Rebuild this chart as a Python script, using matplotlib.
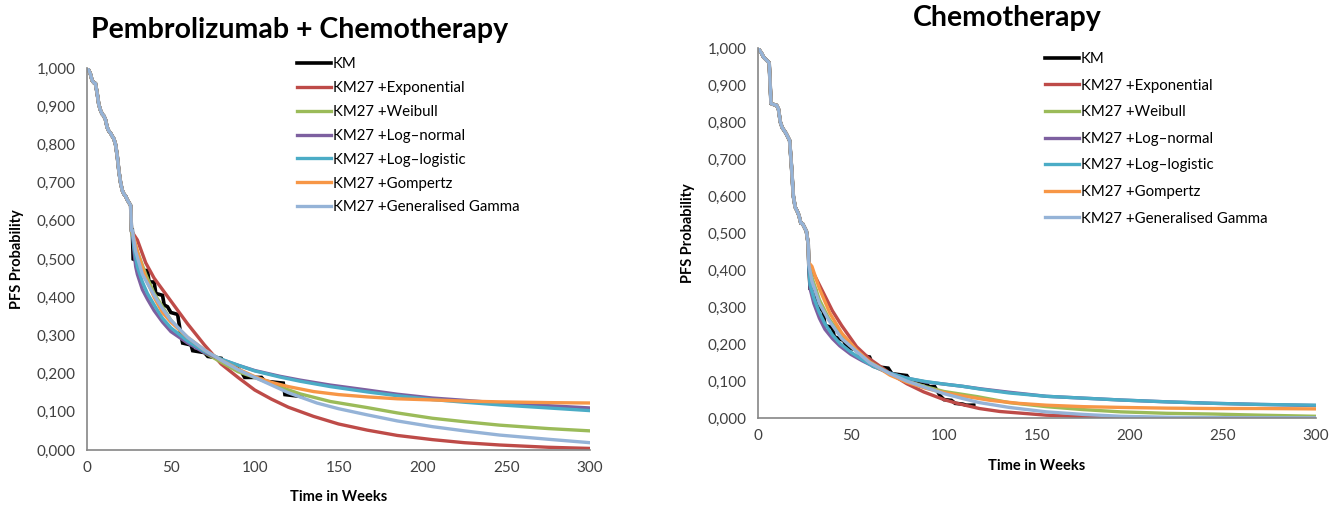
import matplotlib
matplotlib.use('Agg')
import matplotlib.pyplot as plt

plt.rcParams['font.family'] = ['Lato', 'DejaVu Sans']

# ---------------- data: Pembrolizumab + Chemotherapy ----------------
pc_km_pre_t = [0, 1, 2, 3, 4, 5, 6, 7, 8, 9, 10, 11, 12, 13, 14, 15, 16, 17, 18,
               19, 20, 21, 22, 23, 24, 25, 26, 26.5]
pc_km_pre_s = [1.000, 0.995, 0.985, 0.968, 0.962, 0.960, 0.935, 0.905, 0.890, 0.880,
               0.875, 0.865, 0.845, 0.835, 0.830, 0.822, 0.815, 0.800, 0.770, 0.730,
               0.700, 0.680, 0.670, 0.665, 0.655, 0.648, 0.640, 0.575]
pc_km_post_t = [27, 27.5, 30, 31, 36, 37, 40, 41, 45, 46, 48, 50, 54, 56, 57, 62, 63,
                70, 72, 80, 82, 88, 92, 94, 104, 106, 117, 118, 128]
pc_km_post_s = [0.575, 0.500, 0.495, 0.470, 0.470, 0.440, 0.440, 0.410, 0.405, 0.380,
                0.375, 0.360, 0.355, 0.300, 0.280, 0.275, 0.260, 0.255, 0.245, 0.240,
                0.225, 0.220, 0.205, 0.190, 0.190, 0.180, 0.175, 0.145, 0.140]

pc_exp_t = [27, 30, 35, 40, 50, 60, 70, 80, 90, 100, 110, 120, 135, 150, 167, 185, 206, 225, 246, 275, 300]
pc_exp_s = [0.570, 0.550, 0.490, 0.450, 0.390, 0.330, 0.275, 0.225, 0.190, 0.157, 0.133,
            0.112, 0.088, 0.068, 0.052, 0.038, 0.027, 0.019, 0.013, 0.007, 0.004]
pc_wei_t = [27, 30, 35, 40, 50, 60, 70, 80, 90, 100, 115, 127, 145, 167, 185, 206, 225, 246, 275, 300]
pc_wei_s = [0.560, 0.520, 0.460, 0.410, 0.340, 0.290, 0.255, 0.230, 0.205, 0.190, 0.165,
            0.147, 0.127, 0.111, 0.097, 0.083, 0.074, 0.065, 0.056, 0.050]
pc_ln_t = [27, 28, 29, 30, 33, 36, 40, 45, 50, 60, 70, 80, 90, 100, 115, 127, 145, 167,
           185, 206, 225, 246, 275, 300]
pc_ln_s = [0.575, 0.520, 0.480, 0.460, 0.420, 0.395, 0.365, 0.335, 0.310, 0.280, 0.255,
           0.237, 0.222, 0.208, 0.193, 0.183, 0.170, 0.157, 0.146, 0.136, 0.130, 0.123,
           0.116, 0.110]
pc_ll_t = [27, 28, 30, 33, 36, 40, 45, 50, 60, 70, 80, 90, 100, 115, 127, 145, 167, 185,
           206, 225, 246, 275, 300]
pc_ll_s = [0.575, 0.530, 0.480, 0.440, 0.410, 0.380, 0.345, 0.320, 0.285, 0.258, 0.238,
           0.222, 0.207, 0.191, 0.180, 0.166, 0.152, 0.142, 0.132, 0.125, 0.118, 0.110, 0.103]
pc_gom_t = [27, 30, 35, 40, 45, 50, 60, 70, 80, 90, 100, 110, 120, 135, 150, 167, 185,
            206, 225, 246, 275, 300]
pc_gom_s = [0.570, 0.520, 0.450, 0.400, 0.360, 0.335, 0.295, 0.262, 0.235, 0.212, 0.192,
            0.177, 0.166, 0.153, 0.145, 0.139, 0.134, 0.131, 0.128, 0.126, 0.124, 0.123]
pc_gg_t = [27, 29, 33, 40, 45, 50, 60, 70, 80, 90, 100, 110, 120, 137, 150, 167, 185,
           206, 225, 246, 275, 300]
pc_gg_s = [0.575, 0.520, 0.460, 0.405, 0.370, 0.340, 0.295, 0.262, 0.235, 0.210, 0.190,
           0.170, 0.150, 0.123, 0.108, 0.092, 0.076, 0.061, 0.050, 0.039, 0.028, 0.019]

# ---------------- data: Chemotherapy ----------------
ch_km_pre_t = [0, 2, 3, 5, 6, 7, 8, 10, 11, 12, 13, 15, 16, 17, 18, 19, 20, 21, 22,
               23, 24, 25, 26, 27, 27.3]
ch_km_pre_s = [1.000, 0.985, 0.975, 0.965, 0.960, 0.850, 0.848, 0.845, 0.835, 0.800,
               0.785, 0.770, 0.760, 0.750, 0.680, 0.600, 0.570, 0.560, 0.548, 0.527,
               0.525, 0.515, 0.505, 0.470, 0.415]
ch_km_post_t = [27.3, 28, 31, 32, 35, 36, 40, 41, 46, 48, 53, 55, 60, 62, 70, 72, 80,
                82, 90, 92, 95, 98, 100, 104, 106, 110, 112, 116]
ch_km_post_s = [0.415, 0.350, 0.345, 0.300, 0.290, 0.250, 0.245, 0.220, 0.210, 0.190,
                0.185, 0.170, 0.165, 0.140, 0.135, 0.120, 0.115, 0.100, 0.095, 0.085,
                0.085, 0.060, 0.050, 0.048, 0.040, 0.038, 0.035, 0.035]

ch_exp_t = [27.3, 30, 35, 40, 45, 53, 60, 71, 80, 89, 100, 107, 119, 130, 155, 180, 210, 250, 300]
ch_exp_s = [0.415, 0.390, 0.340, 0.290, 0.250, 0.193, 0.160, 0.121, 0.093, 0.071, 0.050,
            0.040, 0.026, 0.018, 0.008, 0.003, 0.001, 0.000, 0.000]
ch_wei_t = [27.3, 29, 33, 38, 45, 53, 60, 71, 80, 90, 100, 118, 135, 155, 175, 195, 220, 245, 270, 300]
ch_wei_s = [0.415, 0.380, 0.320, 0.270, 0.220, 0.180, 0.152, 0.120, 0.101, 0.085, 0.072,
            0.058, 0.042, 0.031, 0.023, 0.017, 0.013, 0.011, 0.008, 0.005]
ch_ln_t = [27.3, 28, 30, 33, 36, 40, 44, 50, 56, 62, 70, 80, 90, 100, 110, 120, 135, 155,
           175, 195, 220, 245, 270, 300]
ch_ln_s = [0.415, 0.350, 0.310, 0.270, 0.240, 0.215, 0.195, 0.172, 0.155, 0.140, 0.123,
           0.108, 0.098, 0.092, 0.086, 0.079, 0.070, 0.059, 0.054, 0.049, 0.044, 0.040,
           0.037, 0.034]
ch_ll_t = [27.3, 28, 30, 33, 36, 40, 44, 50, 56, 62, 70, 80, 90, 100, 110, 120, 135, 155,
           175, 195, 220, 245, 270, 300]
ch_ll_s = [0.415, 0.360, 0.325, 0.285, 0.255, 0.225, 0.202, 0.178, 0.158, 0.140, 0.123,
           0.108, 0.099, 0.092, 0.086, 0.078, 0.068, 0.059, 0.054, 0.049, 0.044, 0.040,
           0.037, 0.035]
ch_gom_t = [27.3, 29, 33, 38.7, 45, 53, 60, 71, 80, 90, 98, 110, 125, 140, 155, 175, 195,
            220, 245, 270, 300]
ch_gom_s = [0.420, 0.410, 0.350, 0.283, 0.230, 0.184, 0.152, 0.116, 0.097, 0.081, 0.071,
            0.060, 0.048, 0.040, 0.035, 0.031, 0.029, 0.027, 0.026, 0.026, 0.025]
ch_gg_t = [27.3, 29, 33, 38, 45, 53, 60, 71, 80, 90, 100, 110, 119, 135, 155, 175, 195, 225, 260, 300]
ch_gg_s = [0.415, 0.370, 0.310, 0.265, 0.215, 0.180, 0.150, 0.120, 0.100, 0.083, 0.066,
           0.053, 0.042, 0.029, 0.017, 0.010, 0.005, 0.002, 0.001, 0.001]

labels = ['KM', 'KM27 +Exponential', 'KM27 +Weibull', 'KM27 +Log\u2013normal',
          'KM27 +Log\u2013logistic', 'KM27 +Gompertz', 'KM27 +Generalised Gamma']
colors = ['#000000', '#BE4B48', '#9BBB59', '#7D60A0', '#4BACC6', '#F79646', '#95B3D7']

x_ticks = [0, 50, 100, 150, 200, 250, 300]
y_ticks = [0.0, 0.1, 0.2, 0.3, 0.4, 0.5, 0.6, 0.7, 0.8, 0.9, 1.0]
y_tick_labels = ['0,000', '0,100', '0,200', '0,300', '0,400', '0,500',
                 '0,600', '0,700', '0,800', '0,900', '1,000']


def draw_panel(ax, km_pre, km_post, fits, title, title_xy, leg_xy, leg_spacing, fig):
    # KM = pre + post, each fitted series uses the KM up to week 27
    ax.plot(km_pre[0] + km_post[0], km_pre[1] + km_post[1], color=colors[0], lw=2.6,
            label=labels[0], solid_joinstyle='miter')
    for (t, s), c, lab in zip(fits, colors[1:], labels[1:]):
        ax.plot(km_pre[0] + t, km_pre[1] + s, color=c, lw=2.4, label=lab)

    ax.set_xlim(0, 300)
    ax.set_ylim(0, 1.0)
    ax.set_xticks(x_ticks)
    ax.set_yticks(y_ticks)
    ax.set_yticklabels(y_tick_labels)
    ax.tick_params(length=0, labelsize=11, colors='#404040', pad=8)
    for sp in ['top', 'right']:
        ax.spines[sp].set_visible(False)
    for sp in ['left', 'bottom']:
        ax.spines[sp].set_color('#868686')
        ax.spines[sp].set_linewidth(1.2)
    ax.set_xlabel('Time in Weeks', fontsize=10.5, fontweight='bold', labelpad=11)
    ax.set_ylabel('PFS Probability', fontsize=10.5, fontweight='bold', labelpad=9)

    fig.text(title_xy[0], title_xy[1], title, fontsize=20.5, fontweight='bold',
             ha='center', va='center')
    ax.legend(loc='upper left', bbox_to_anchor=leg_xy, bbox_transform=fig.transFigure,
              frameon=False, fontsize=10.8, handlelength=2.3, handletextpad=0.1,
              labelspacing=leg_spacing, borderpad=0, borderaxespad=0)


fig = plt.figure(figsize=(13.31, 5.05), dpi=100)

ax1 = fig.add_axes([0.0654, 0.109, 0.378, 0.756])
draw_panel(ax1, (pc_km_pre_t, pc_km_pre_s), (pc_km_post_t, pc_km_post_s),
           [(pc_exp_t, pc_exp_s), (pc_wei_t, pc_wei_s), (pc_ln_t, pc_ln_s),
            (pc_ll_t, pc_ll_s), (pc_gom_t, pc_gom_s), (pc_gg_t, pc_gg_s)],
           'Pembrolizumab + Chemotherapy', (0.2254, 0.941), (0.2231, 0.887), 0.66, fig)

ax2 = fig.add_axes([0.5695, 0.172, 0.4192, 0.733])
draw_panel(ax2, (ch_km_pre_t, ch_km_pre_s), (ch_km_post_t, ch_km_post_s),
           [(ch_exp_t, ch_exp_s), (ch_wei_t, ch_wei_s), (ch_ln_t, ch_ln_s),
            (ch_ll_t, ch_ll_s), (ch_gom_t, ch_gom_s), (ch_gg_t, ch_gg_s)],
           'Chemotherapy', (0.7566, 0.964), (0.785, 0.897), 0.84, fig)

plt.savefig('out.png', dpi=100)
